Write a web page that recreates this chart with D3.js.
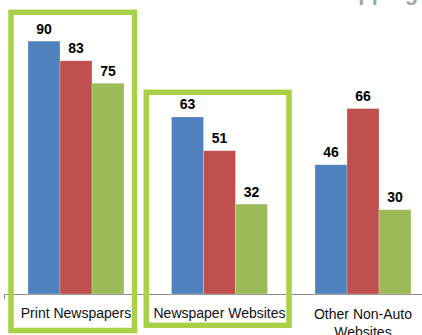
<!DOCTYPE html>
<html>
<head>
<meta charset="utf-8">
<script src="https://cdn.jsdelivr.net/npm/d3@7"></script>
<style>
  body { margin: 0; background: #fff; }
  svg { display: block; font-family: "Liberation Sans", Arial, sans-serif; }
</style>
</head>
<body>
<div id="chart"></div>
<script>
// data
var categories = ["Print Newspapers", "Newspaper Websites", "Other Non-Auto Websites"];
var series = ["s1", "s2", "s3"];
var values = [
  [90, 83, 75],
  [63, 51, 32],
  [46, 66, 30]
];
var colors = ["#4F81BD", "#C0504D", "#9BBB59"];
// categories that get the green highlight box
var highlighted = ["Print Newspapers", "Newspaper Websites"];

var width = 422, height = 335;

var svg = d3.select("#chart").append("svg")
    .attr("width", width)
    .attr("height", height);

var x0 = d3.scaleBand()
    .domain(categories)
    .range([4.25, 434.75])
    .paddingInner(0.331)
    .paddingOuter(0.1655);

var x1 = d3.scaleBand()
    .domain(series)
    .range([0, x0.bandwidth()]);

var y = d3.scaleLinear()
    .domain([0, 100])
    .range([294, 13]);

// cut-off title at the very top (only the bottom sliver shows)
svg.append("text")
    .attr("x", 258)
    .attr("y", 0.2)
    .attr("text-anchor", "middle")
    .attr("fill", "#A6A6A6")
    .style("font-size", "22px")
    .style("font-weight", "bold")
    .text("Sources Used When Shopping");

// axis line + left tick
svg.append("line")
    .attr("x1", 4).attr("x2", width)
    .attr("y1", y(0) + 0.5).attr("y2", y(0) + 0.5)
    .attr("stroke", "#8C8C8C");
svg.append("line")
    .attr("x1", 4.5).attr("x2", 4.5)
    .attr("y1", y(0)).attr("y2", y(0) + 5)
    .attr("stroke", "#8C8C8C");

var groups = svg.selectAll("g.grp")
    .data(categories)
    .enter().append("g")
    .attr("class", "grp")
    .attr("transform", function(d) { return "translate(" + x0(d) + ",0)"; });

groups.selectAll("rect")
    .data(function(d, i) { return values[i]; })
    .enter().append("rect")
    .attr("x", function(d, j) { return x1(series[j]); })
    .attr("width", x1.bandwidth())
    .attr("y", function(d) { return y(d); })
    .attr("height", function(d) { return y(0) - y(d); })
    .attr("fill", function(d, j) { return colors[j]; })
    .attr("stroke", "rgba(255,255,255,0.35)")
    .attr("stroke-width", 0.7);

groups.selectAll("text.val")
    .data(function(d, i) { return values[i]; })
    .enter().append("text")
    .attr("class", "val")
    .attr("x", function(d, j) { return x1(series[j]) + x1.bandwidth() / 2; })
    .attr("y", function(d) { return y(d) - 7.5; })
    .attr("text-anchor", "middle")
    .style("font-size", "14px")
    .style("font-weight", "bold")
    .text(function(d) { return d; });

// category labels (wrap the long one)
groups.each(function(d) {
    var g = d3.select(this);
    var lines = d == "Other Non-Auto Websites" ? ["Other Non-Auto", "Websites"] : [d];
    var t = g.append("text")
        .attr("x", x0.bandwidth() / 2)
        .attr("y", lines.length > 1 ? 319 : 317.5)
        .attr("text-anchor", "middle")
        .attr("fill", "#111")
        .style("font-size", "14px");
    lines.forEach(function(l, k) {
        t.append("tspan")
            .attr("x", x0.bandwidth() / 2)
            .attr("dy", k == 0 ? 0 : 18)
            .text(l);
    });
});

// green highlight boxes
var boxes = [
    {cat: "Print Newspapers", top: 12.3, bottom: 330.5, left: 11, right: 134.5},
    {cat: "Newspaper Websites", top: 92.3, bottom: 325.3, left: 146.3, right: 289}
];
svg.selectAll("rect.box")
    .data(boxes)
    .enter().append("rect")
    .attr("class", "box")
    .attr("x", function(d) { return d.left; })
    .attr("y", function(d) { return d.top; })
    .attr("width", function(d) { return d.right - d.left; })
    .attr("height", function(d) { return d.bottom - d.top; })
    .attr("fill", "none")
    .attr("stroke", "#A9D046")
    .attr("stroke-width", 5.5);
</script>
</body>
</html>
